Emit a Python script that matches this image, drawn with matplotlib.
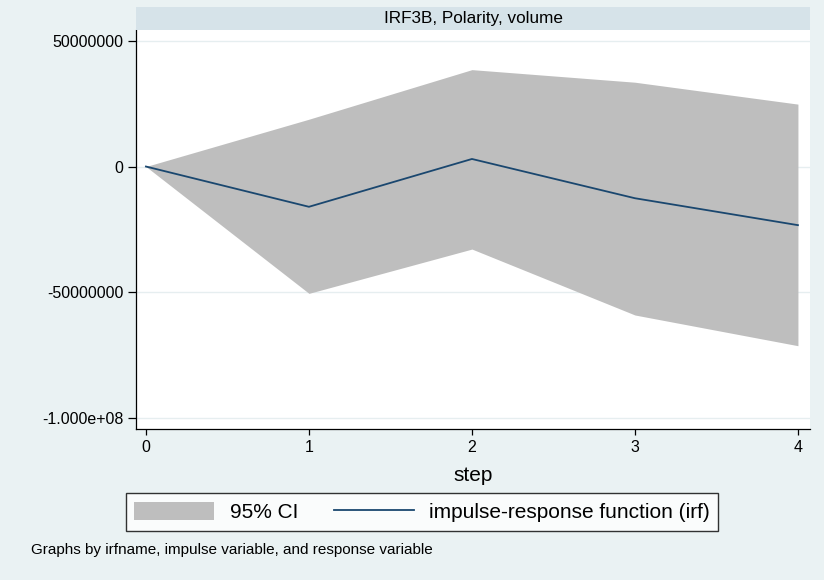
import matplotlib
matplotlib.use("Agg")
import matplotlib.pyplot as plt
from matplotlib.patches import Patch, Rectangle
from matplotlib.lines import Line2D
from matplotlib.ticker import FixedLocator, FixedFormatter

plt.rcParams['font.family'] = ['Liberation Sans', 'DejaVu Sans']

# ---- data ----
steps = [0, 1, 2, 3, 4]
irf = [0, -16.0e6, 3.0e6, -12.6e6, -23.3e6]
ci_lower = [0, -50.4e6, -32.8e6, -59.0e6, -71.2e6]
ci_upper = [0, 18.8e6, 38.5e6, 33.5e6, 24.8e6]
ytick_values = [50000000, 0, -50000000, -100000000]
ytick_labels = ["50000000", "0", "-50000000", "-1.000e+08"]
xtick_values = [0, 1, 2, 3, 4]
panel_title = "IRF3B, Polarity, volume"
xlabel = "step"
legend_labels = ["95% CI", "impulse-response function (irf)"]
note = "Graphs by irfname, impulse variable, and response variable"

BG = "#eaf2f3"
STRIP = "#d6e3e9"
GRID = "#e6eef0"
CI = "#bebebe"
LINE = "#1a476f"

W, H = 824, 580
fig = plt.figure(figsize=(W / 100, H / 100), dpi=100, facecolor=BG)

def fx(px):
    return px / W

def fy(py):
    return 1 - py / H

ax = fig.add_axes([fx(136), fy(429), fx(810) - fx(136), fy(30) - fy(429)])
ax.set_facecolor("white")

ax.fill_between(steps, ci_lower, ci_upper, color=CI, linewidth=0, zorder=2)
ax.plot(steps, irf, color=LINE, linewidth=1.3, zorder=3)

ax.set_xlim(-0.061, 4.074)
ax.set_ylim(-104.3e6, 54.25e6)

ax.yaxis.set_major_locator(FixedLocator(ytick_values))
ax.yaxis.set_major_formatter(FixedFormatter(ytick_labels))
ax.xaxis.set_major_locator(FixedLocator(xtick_values))
ax.set_xticklabels([str(v) for v in xtick_values])

ax.grid(axis='y', color=GRID, linewidth=1.0, zorder=1)
ax.set_axisbelow(True)

for s in ['top', 'right']:
    ax.spines[s].set_visible(False)
for s in ['left', 'bottom']:
    ax.spines[s].set_color('black')
    ax.spines[s].set_linewidth(0.9)

ax.tick_params(axis='both', direction='out', width=0.9, color='black',
               labelsize=11.5, labelcolor='black')
ax.tick_params(axis='x', length=4, pad=4)
ax.tick_params(axis='y', length=6, pad=3)

ax.set_xlabel(xlabel, fontsize=15, labelpad=8)

# header strip
fig.patches.append(Rectangle((fx(136), fy(30)), fx(810) - fx(136), fy(7) - fy(30),
                             transform=fig.transFigure, facecolor=STRIP,
                             edgecolor='none', zorder=0))
fig.text((fx(136) + fx(810)) / 2, (fy(7) + fy(30)) / 2, panel_title,
         ha='center', va='center', fontsize=12.3)

# legend
handles = [Patch(facecolor=CI, edgecolor='none'),
           Line2D([0], [0], color=LINE, linewidth=1.3)]
leg = fig.legend(handles, legend_labels, loc='center',
                 bbox_to_anchor=(fx(422), fy(512)), ncol=2, fontsize=15,
                 frameon=True, fancybox=False, edgecolor='black',
                 handlelength=3.85, handleheight=1.0, handletextpad=0.75,
                 columnspacing=1.7, borderpad=0.4, borderaxespad=0)
leg.get_frame().set_linewidth(1.0)
leg.get_frame().set_facecolor('white')

fig.text(fx(31), fy(550), note, ha='left', va='center', fontsize=11)

fig.savefig("out.png", dpi=100, facecolor=BG)
